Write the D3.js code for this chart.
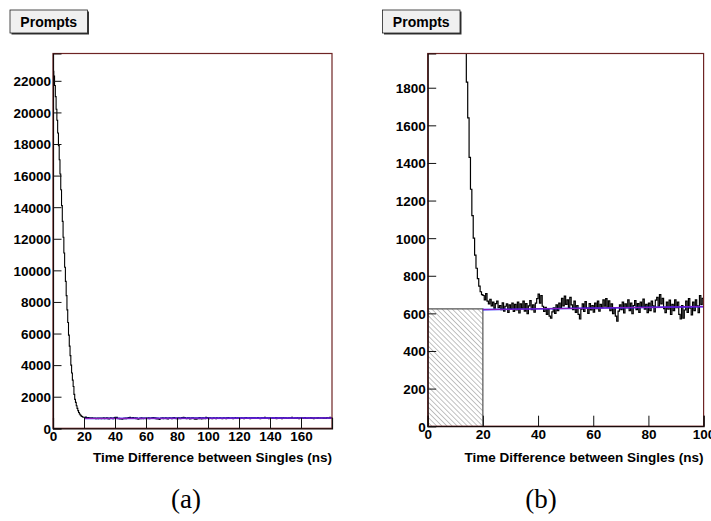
<!DOCTYPE html>
<html>
<head>
<meta charset="utf-8">
<script src="https://cdn.jsdelivr.net/npm/d3@7"></script>
<style>
  html, body { margin: 0; padding: 0; background: #fff; }
  svg { display: block; }
</style>
</head>
<body>
<svg id="chart" width="711" height="521"></svg>
<script>
// Histogram of prompt-window time differences, 0.5 ns bins
const binWidth = 0.5;

// 0 - 20 ns: prompt peak
const promptCounts = [
  22600, 22300, 21700, 21000, 20200, 19500, 18700, 17900, 17000, 16100,
  15100, 14100, 13100, 12100, 11100, 10200, 9300, 8400, 7500, 6700,
  5900, 5200, 4600, 4000, 3500, 3050, 2650, 2150, 1830, 1640,
  1430, 1260, 1120, 1000, 910, 840, 785, 745, 715, 700
];

// 20 - 100 ns: flat accidental background
const flatCounts = [
  695, 672, 705, 665, 650, 675, 640, 660, 628, 652,
  665, 630, 642, 620, 656, 612, 638, 650, 605, 645,
  625, 655, 610, 648, 618, 660, 602, 650, 628, 665,
  612, 652, 598, 640, 668, 620, 645, 606, 655, 678,
  702, 655, 695, 638, 610, 632, 595, 622, 585, 575,
  608, 630, 600, 645, 615, 655, 628, 680, 640, 692,
  648, 672, 632, 685, 645, 620, 665, 605, 642, 595,
  570, 622, 650, 610, 662, 628, 600, 652, 618, 642,
  606, 655, 625, 665, 612, 648, 630, 672, 638, 678,
  632, 666, 615, 650, 598, 628, 585, 558, 612, 645,
  620, 660, 602, 650, 630, 672, 615, 655, 598, 642,
  668, 620, 652, 605, 660, 632, 676, 622, 648, 604,
  655, 615, 665, 640, 608, 670, 685, 638, 700, 650,
  680, 625, 604, 660, 622, 670, 594, 648, 615, 672,
  630, 660, 595, 570, 642, 574, 618, 665, 605, 678,
  628, 592, 660, 615, 672, 640, 604, 695, 648, 680
];

// 100 - 180 ns: flat accidental background (tail)
const tailCounts = [
  640, 615, 662, 630, 655, 608, 645, 672, 628, 650,
  612, 660, 635, 648, 620, 670, 632, 655, 605, 642,
  668, 625, 650, 615, 660, 640, 685, 630, 652, 618,
  645, 662, 610, 655, 628, 675, 640, 620, 658, 635,
  650, 600, 645, 668, 630, 655, 615, 662, 640, 680,
  625, 652, 638, 665, 612, 648, 670, 632, 658, 620,
  660, 642, 618, 655, 675, 630, 650, 605, 645, 668,
  635, 660, 622, 690, 645, 628, 662, 650, 615, 672,
  640, 655, 630, 668, 620, 650, 642, 675, 612, 660,
  648, 625, 670, 638, 662, 610, 655, 680, 635, 650,
  665, 628, 652, 618, 672, 645, 660, 632, 690, 640,
  655, 620, 668, 642, 630, 675, 648, 615, 662, 650,
  638, 672, 625, 660, 645, 685, 630, 655, 618, 668,
  650, 640, 675, 628, 662, 645, 610, 670, 652, 635,
  660, 625, 680, 648, 632, 668, 655, 640, 672, 620,
  658, 645, 630, 675, 650, 662, 638, 690, 648, 660
];

// Straight-line background fit over the flat region
const fitTimes = [20, 180];
const fitCounts = [620, 652];

// Accidentals estimate under the prompt window
const windowRange = [0, 20];
const windowLevel = 624;

// Axis settings for the two panels
const panelXMax = [180, 100];
const panelYMax = [23730, 1982];
const xMajorStep = [20, 20];
const xMinorStep = [5, 5];
const yMajorStep = [2000, 200];
const yMinorStep = [500, 50];
const panelTitle = "Prompts";
const xTitle = "Time Difference between Singles (ns)";
const captions = ["(a)", "(b)"];

const counts = promptCounts.concat(flatCounts, tailCounts);
const bins = counts.map((c, i) => ({ t: i * binWidth, c }));

const svg = d3.select("#chart");
const defs = svg.append("defs");
const frameColor = "#6e2424";
const sans = "'Liberation Sans', Arial, Helvetica, sans-serif";
const serif = "'Liberation Serif', 'DejaVu Serif', serif";

const panels = [
  { left: 53, right: 332, top: 53.5, bottom: 428.3, boxX: 10, capX: 186, edgeLabel: false },
  { left: 427.7, right: 703.6, top: 53.5, bottom: 426.2, boxX: 382.5, capX: 541, edgeLabel: true }
];

panels.forEach((p, k) => {
  const g = svg.append("g");
  const x = d3.scaleLinear().domain([0, panelXMax[k]]).range([p.left, p.right]);
  const y = d3.scaleLinear().domain([0, panelYMax[k]]).range([p.bottom, p.top]);

  const clipId = "clip" + k;
  defs.append("clipPath").attr("id", clipId)
    .append("rect").attr("x", p.left).attr("y", p.top)
    .attr("width", p.right - p.left).attr("height", p.bottom - p.top);

  // hatched accidentals window (zoomed panel only)
  if (k === 1) {
    const patId = "hatch" + k;
    const pat = defs.append("pattern").attr("id", patId)
      .attr("patternUnits", "userSpaceOnUse").attr("width", 3.6).attr("height", 3.6)
      .attr("patternTransform", "rotate(-45)");
    pat.append("line").attr("x1", 0).attr("y1", 0).attr("x2", 0).attr("y2", 3.6)
      .attr("stroke", "#666").attr("stroke-width", 0.8);
    g.append("rect")
      .attr("x", x(windowRange[0])).attr("y", y(windowLevel))
      .attr("width", x(windowRange[1]) - x(windowRange[0]))
      .attr("height", y(0) - y(windowLevel))
      .attr("fill", "url(#" + patId + ")");
    g.append("path")
      .attr("d", `M${x(windowRange[0])},${y(windowLevel)}H${x(windowRange[1])}V${y(0)}`)
      .attr("fill", "none").attr("stroke", "#555").attr("stroke-width", 1.2);
  }

  const inner = g.append("g").attr("clip-path", `url(#${clipId})`);

  // step histogram
  const pts = bins.map(b => [b.t, b.c]);
  pts.push([bins.length * binWidth, bins[bins.length - 1].c]);
  const line = d3.line().x(d => x(d[0])).y(d => y(d[1])).curve(d3.curveStepAfter);
  inner.append("path").datum(pts).attr("d", line)
    .attr("fill", "none").attr("stroke", "#000").attr("stroke-width", k === 0 ? 1.1 : 1.2);

  // background fit
  const fitPts = fitTimes.map((t, i) => [t, fitCounts[i]]);
  const fitLine = d3.line().x(d => x(d[0])).y(d => y(d[1]));
  inner.append("path").datum(fitPts).attr("d", fitLine)
    .attr("fill", "none").attr("stroke", "#1a1aff").attr("stroke-width", 1.6);
  inner.append("path").datum(fitPts).attr("d", fitLine)
    .attr("fill", "none").attr("stroke", "#e0208a").attr("stroke-width", 0.8)
    .attr("stroke-opacity", 0.75);

  // frame
  g.append("rect").attr("x", p.left).attr("y", p.top)
    .attr("width", p.right - p.left).attr("height", p.bottom - p.top)
    .attr("fill", "none").attr("stroke", frameColor).attr("stroke-width", 1.2);

  // axes with inward ticks
  const xMajor = d3.range(0, panelXMax[k] + 1e-9, xMajorStep[k]);
  const xMinor = d3.range(0, panelXMax[k] + 1e-9, xMinorStep[k]);
  const yMajor = d3.range(0, panelYMax[k], yMajorStep[k]);
  const yMinor = d3.range(0, panelYMax[k], yMinorStep[k]);
  const xFmt = d => (!p.edgeLabel && d === panelXMax[k]) ? "" : d3.format("d")(d);

  const axX = g.append("g").attr("transform", `translate(0,${p.bottom})`);
  axX.call(d3.axisBottom(x).tickValues(xMinor).tickSize(-5).tickFormat(""));
  axX.call(d3.axisBottom(x).tickValues(xMajor).tickSize(-10.5).tickPadding(5).tickFormat(xFmt));

  const axY = g.append("g").attr("transform", `translate(${p.left},0)`);
  axY.call(d3.axisLeft(y).tickValues(yMinor).tickSize(-4.5).tickFormat(""));
  axY.call(d3.axisLeft(y).tickValues(yMajor).tickSize(-8.5).tickPadding(2).tickFormat(d3.format("d")));

  [axX, axY].forEach(a => {
    a.selectAll(".domain").attr("stroke", "#1a0a0a").attr("stroke-width", 1.2);
    a.selectAll(".tick line").attr("stroke", "#111").attr("stroke-width", 1);
    a.selectAll(".tick text")
      .attr("font-family", sans)
      .attr("font-weight", "bold").attr("font-size", 13.5).attr("fill", "#000");
  });
  axX.selectAll(".tick text").attr("dy", "0.6em");
  axY.selectAll(".tick text").attr("dy", "0.36em");

  // x-axis title
  g.append("text").attr("x", p.right).attr("y", 461.5)
    .attr("text-anchor", "end").attr("font-family", sans)
    .attr("font-weight", "bold").attr("font-size", 13.5)
    .text(xTitle);

  // title box
  const bw = 77.5, bh = 23;
  g.append("rect").attr("x", p.boxX + 1.5).attr("y", 10 + 1.5).attr("width", bw).attr("height", bh)
    .attr("fill", "#333");
  g.append("rect").attr("x", p.boxX).attr("y", 10).attr("width", bw).attr("height", bh)
    .attr("fill", "#f0f0f0").attr("stroke", "#222").attr("stroke-width", 0.8);
  g.append("text").attr("x", p.boxX + bw / 2).attr("y", 26.5)
    .attr("text-anchor", "middle").attr("font-family", sans)
    .attr("font-weight", "bold").attr("font-size", 14)
    .text(panelTitle);

  // caption
  g.append("text").attr("x", p.capX).attr("y", 508)
    .attr("text-anchor", "middle")
    .attr("font-family", serif)
    .attr("font-size", 27).text(captions[k]);
});
</script>
</body>
</html>
